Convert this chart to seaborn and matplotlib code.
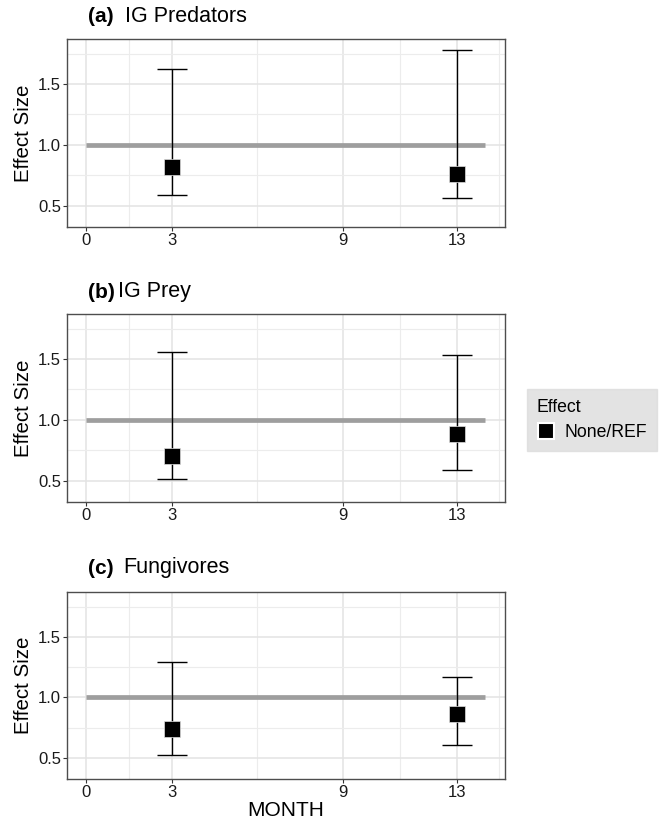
import numpy as np
import pandas as pd
import seaborn as sns
import matplotlib.pyplot as plt
from matplotlib.lines import Line2D

# values
panels = ["(a)", "(b)", "(c)"]
groups = ["IG Predators", "IG Prey", "Fungivores"]
months = [3, 13]
est = [[0.82, 0.76], [0.70, 0.88], [0.74, 0.86]]
lower = [[0.59, 0.56], [0.51, 0.59], [0.52, 0.61]]
upper = [[1.62, 1.78], [1.56, 1.53], [1.29, 1.17]]
xticks = [0, 3, 9, 13]
xminor = [1.5, 6, 11, 14.5]
yticks = [0.5, 1.0, 1.5]
yminor = [0.75, 1.25, 1.75]

rows = []
for i, g in enumerate(groups):
    for j, m in enumerate(months):
        rows.append([g, m, est[i][j], lower[i][j], upper[i][j], "None/REF"])
df = pd.DataFrame(rows, columns=["group", "MONTH", "est", "lo", "hi", "Effect"])

sns.set_theme(style="white")
plt.rcParams['font.family'] = ['Liberation Sans', 'DejaVu Sans']
plt.rcParams['text.color'] = 'black'
plt.rcParams['axes.labelcolor'] = 'black'

W, H = 659, 824
fig = plt.figure(figsize=(W / 100, H / 100), dpi=100)

boxes = [(39, 227), (314, 502), (592, 779)]
title_y = [17, 292, 568]
name_x = [125, 118, 123]
left, right = 67, 505

for i, g in enumerate(groups):
    top, bot = boxes[i]
    ax = fig.add_axes([left / W, 1 - bot / H, (right - left) / W, (bot - top) / H])
    sub = df[df.group == g]

    ax.set_xlim(-0.68, 14.7)
    ax.set_ylim(0.325, 1.87)
    ax.set_xticks(xticks)
    ax.set_xticks(xminor, minor=True)
    ax.set_yticks(yticks)
    ax.set_yticks(yminor, minor=True)
    ax.set_yticklabels([f"{v:.1f}" for v in yticks])
    ax.grid(True, which="major", color="#e3e3e3", lw=1.1, zorder=0)
    ax.grid(True, which="minor", color="#ececec", lw=0.8, zorder=0)
    ax.set_axisbelow(True)
    ax.tick_params(which="major", length=3, width=0.8, color="#333333",
                   labelsize=12, labelcolor="#1a1a1a", pad=1.2, bottom=True, left=True)
    ax.tick_params(which="minor", length=0)
    for s in ax.spines.values():
        s.set_color("#4d4d4d")
        s.set_linewidth(1.0)

    ax.plot([0, 14], [1, 1], color="#9e9e9e", lw=3.4, zorder=2, solid_capstyle="butt")
    ax.errorbar(sub.MONTH, sub.est,
                yerr=[sub.est - sub.lo, sub.hi - sub.est],
                fmt="none", ecolor="black", elinewidth=1.0, capsize=10.5,
                capthick=1.0, zorder=3)
    sns.scatterplot(data=sub, x="MONTH", y="est", marker="s", s=130, color="black",
                    edgecolor="#dddddd", linewidth=0.5, legend=False, ax=ax, zorder=4)

    ax.set_ylabel("Effect Size", fontsize=14.8, color="black", labelpad=4)
    if i == 2:
        ax.set_xlabel("MONTH", fontsize=15, color="black", labelpad=1)
    else:
        ax.set_xlabel("")

    fig.text(88 / W, 1 - title_y[i] / H, panels[i], fontsize=15, fontweight="bold",
             va="center", ha="left", color="black")
    fig.text(name_x[i] / W, 1 - title_y[i] / H, g, fontsize=15.5, va="center",
             ha="left", color="black")

handle = Line2D([], [], ls="none", marker="s", markersize=12, color="black",
                markeredgecolor="white", markeredgewidth=1.5)
leg = fig.legend([handle], ["None/REF"], title="Effect", loc="center left",
                 bbox_to_anchor=(527 / W, 1 - 420 / H), frameon=True,
                 fontsize=12.7, title_fontsize=12.7, alignment="left",
                 handlelength=1.0, handletextpad=0.6, borderpad=0.55,
                 fancybox=False, borderaxespad=0, labelcolor="black")
leg.get_title().set_color("black")
leg.get_frame().set_facecolor("#dcdcdc")
leg.get_frame().set_edgecolor("#dcdcdc")

fig.savefig("out.png", dpi=100)
